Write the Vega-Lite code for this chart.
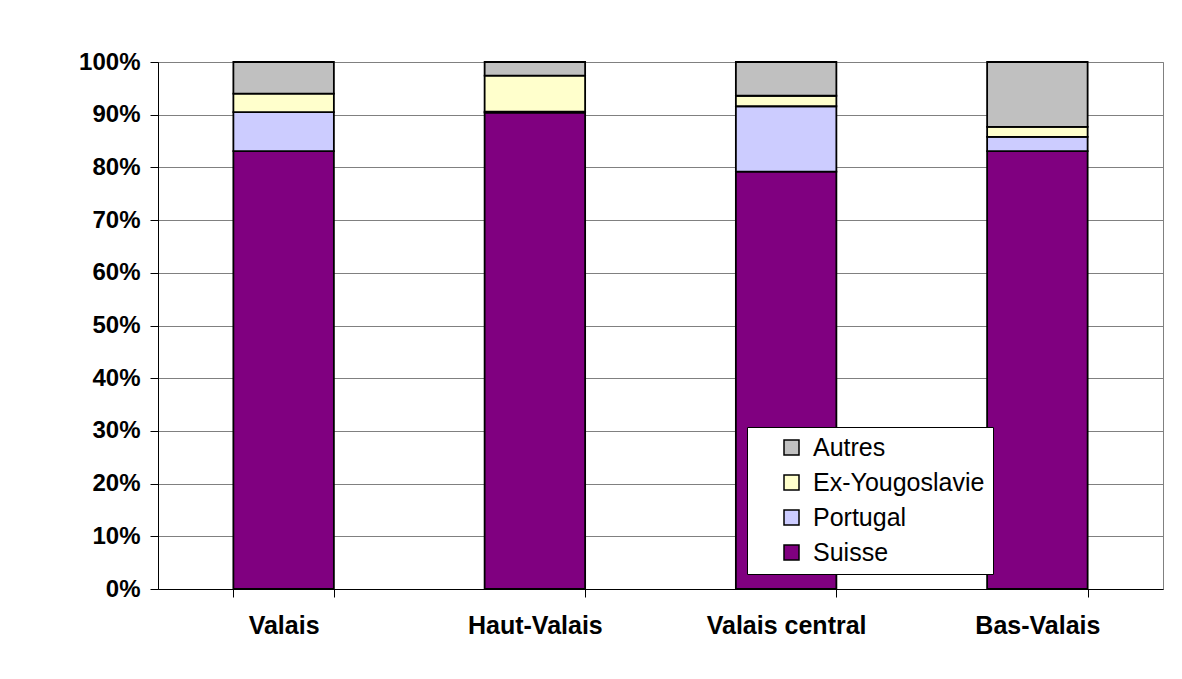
{
  "$schema": "https://vega.github.io/schema/vega-lite/v6.json",
  "autosize": {"type": "none"},
  "width": 1005,
  "height": 527,
  "padding": {"left": 158, "top": 62, "right": 19, "bottom": 90},
  "background": "white",
  "data": {
    "values": [
      {"region": "Valais", "groupe": "Suisse", "part": 0.831},
      {"region": "Valais", "groupe": "Portugal", "part": 0.074},
      {"region": "Valais", "groupe": "Ex-Yougoslavie", "part": 0.035},
      {"region": "Valais", "groupe": "Autres", "part": 0.060},
      {"region": "Haut-Valais", "groupe": "Suisse", "part": 0.904},
      {"region": "Haut-Valais", "groupe": "Portugal", "part": 0.002},
      {"region": "Haut-Valais", "groupe": "Ex-Yougoslavie", "part": 0.068},
      {"region": "Haut-Valais", "groupe": "Autres", "part": 0.026},
      {"region": "Valais central", "groupe": "Suisse", "part": 0.792},
      {"region": "Valais central", "groupe": "Portugal", "part": 0.124},
      {"region": "Valais central", "groupe": "Ex-Yougoslavie", "part": 0.020},
      {"region": "Valais central", "groupe": "Autres", "part": 0.064},
      {"region": "Bas-Valais", "groupe": "Suisse", "part": 0.831},
      {"region": "Bas-Valais", "groupe": "Portugal", "part": 0.027},
      {"region": "Bas-Valais", "groupe": "Ex-Yougoslavie", "part": 0.019},
      {"region": "Bas-Valais", "groupe": "Autres", "part": 0.123}
    ]
  },
  "mark": {"type": "bar", "stroke": "black", "strokeWidth": 1.8},
  "encoding": {
    "x": {
      "field": "region",
      "type": "nominal",
      "sort": ["Valais", "Haut-Valais", "Valais central", "Bas-Valais"],
      "scale": {"paddingInner": 0.6, "paddingOuter": 0.3},
      "axis": {
        "title": null,
        "labelAngle": 0,
        "labelFont": "Liberation Sans",
        "labelFontSize": 25,
        "labelFontWeight": "bold",
        "labelColor": "black",
        "labelPadding": 16,
        "labelLimit": 400,
        "tickBand": "extent",
        "tickSize": 8,
        "tickColor": "black",
        "domainColor": "black",
        "grid": false
      }
    },
    "y": {
      "field": "part",
      "type": "quantitative",
      "stack": "zero",
      "scale": {"domain": [0, 1], "nice": false},
      "axis": {
        "title": null,
        "values": [0, 0.1, 0.2, 0.3, 0.4, 0.5, 0.6, 0.7, 0.8, 0.9, 1],
        "format": ".0%",
        "labelFont": "Liberation Sans",
        "labelFontSize": 24,
        "labelFontWeight": "bold",
        "labelColor": "black",
        "labelPadding": 10,
        "tickSize": 8,
        "tickColor": "black",
        "domainColor": "black",
        "grid": true,
        "gridColor": "#808080",
        "gridWidth": 1
      }
    },
    "color": {
      "field": "groupe",
      "type": "nominal",
      "scale": {
        "domain": ["Autres", "Ex-Yougoslavie", "Portugal", "Suisse"],
        "range": ["#C0C0C0", "#FFFFCC", "#CCCCFF", "#800080"]
      },
      "legend": {
        "title": null,
        "orient": "none",
        "legendX": 589,
        "legendY": 365,
        "fillColor": "white",
        "strokeColor": "black",
        "padding": 8,
        "symbolType": "square",
        "symbolSize": 225,
        "symbolStrokeColor": "black",
        "symbolStrokeWidth": 1.5,
        "symbolOffset": 24,
        "labelOffset": 9,
        "labelFont": "Liberation Sans",
        "labelFontSize": 25,
        "labelColor": "black",
        "labelLimit": 400,
        "rowPadding": 9
      }
    },
    "order": {"field": "groupe", "sort": "descending"}
  },
  "config": {
    "view": {"stroke": "#808080", "strokeWidth": 1}
  }
}
